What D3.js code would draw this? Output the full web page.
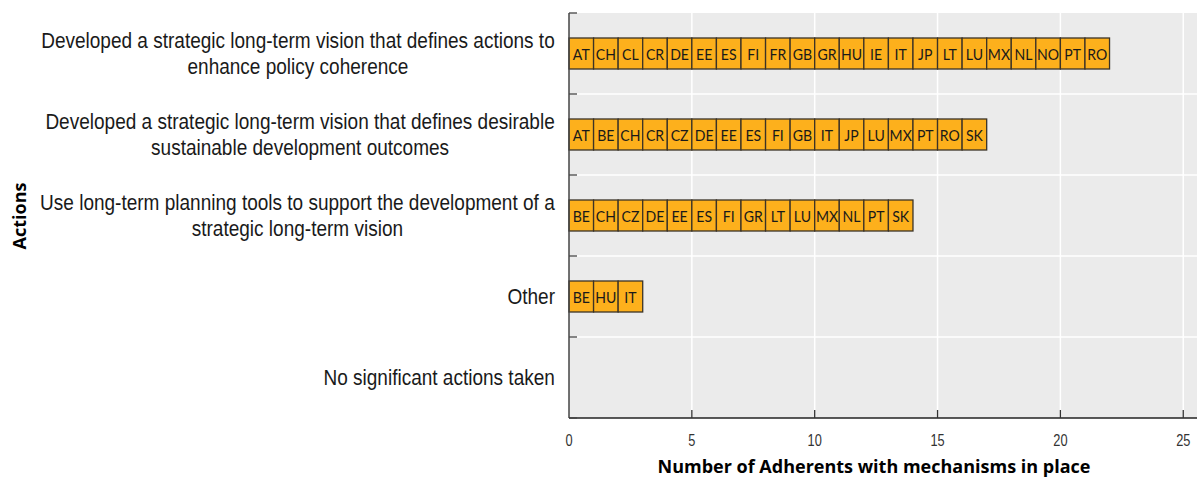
<!DOCTYPE html>
<meta charset="utf-8">
<style>
body { margin: 0; background: #fff; }
.cat { font-family: "Liberation Sans", Arial, sans-serif; font-size: 22px; fill: #1a1a1a; }
.tick text { font-family: "Liberation Sans", Arial, sans-serif; font-size: 16px; fill: #333; }
.cell text { font-family: Lato, "Open Sans", sans-serif; font-size: 16px; fill: #1a1a1a; }
.title { font-family: "Open Sans", sans-serif; font-weight: bold; fill: #000; }
</style>
<body>
<script src="https://d3js.org/d3.v7.min.js"></script>
<svg width="1197" height="479"></svg>
<script>

// categories, top to bottom; label lines as shown
var categories = [
  ["Developed a strategic long-term vision that defines actions to", "enhance policy coherence"],
  ["Developed a strategic long-term vision that defines desirable", "sustainable development outcomes"],
  ["Use long-term planning tools to support the development of a", "strategic long-term vision"],
  ["Other"],
  ["No significant actions taken"]
];

// countries in each bar
var countries = [
  ["AT","CH","CL","CR","DE","EE","ES","FI","FR","GB","GR","HU","IE","IT","JP","LT","LU","MX","NL","NO","PT","RO"],
  ["AT","BE","CH","CR","CZ","DE","EE","ES","FI","GB","IT","JP","LU","MX","PT","RO","SK"],
  ["BE","CH","CZ","DE","EE","ES","FI","GR","LT","LU","MX","NL","PT","SK"],
  ["BE","HU","IT"],
  []
];

var xTicks = [0, 5, 10, 15, 20, 25];

var svg = d3.select("svg");
var pLeft = 569, pRight = 1197, pTop = 13, pBottom = 418;

var x = d3.scaleLinear().domain([0, 25.56]).range([pLeft, pRight]);
var y = d3.scaleBand().domain(d3.range(categories.length)).range([pTop, pBottom]);

// panel
svg.append("rect")
  .attr("x", pLeft).attr("y", pTop)
  .attr("width", pRight - pLeft).attr("height", pBottom - pTop)
  .attr("fill", "#ebebeb");

// grid
svg.append("g").selectAll("line")
  .data(xTicks.slice(1))
  .enter().append("line")
    .attr("x1", d => x(d)).attr("x2", d => x(d))
    .attr("y1", pTop).attr("y2", pBottom)
    .attr("stroke", "#fff").attr("stroke-width", 1.5);

svg.append("g").selectAll("line")
  .data(d3.range(1, categories.length))
  .enter().append("line")
    .attr("x1", pLeft).attr("x2", pRight)
    .attr("y1", d => y(d)).attr("y2", d => y(d))
    .attr("stroke", "#fff").attr("stroke-width", 1.5);

// cells
var barH = 31;
var rows = svg.append("g").selectAll("g")
  .data(countries)
  .enter().append("g")
    .attr("transform", (d, i) => "translate(0," + (y(i) + (y.bandwidth() - barH) / 2) + ")");

var cell = rows.selectAll("g")
  .data(d => d)
  .enter().append("g")
    .attr("class", "cell");

cell.append("rect")
  .attr("x", (d, i) => x(i))
  .attr("y", 0)
  .attr("width", (d, i) => x(i + 1) - x(i))
  .attr("height", barH)
  .attr("fill", "#fdb01c")
  .attr("stroke", "#3b3327")
  .attr("stroke-width", 1.3);

cell.append("text")
  .attr("transform", (d, i) => "translate(" + (x(i) + x(i + 1)) / 2 + "," + (barH / 2 + 6) + ") scale(0.88,1)")
  .attr("text-anchor", "middle")
  .text(d => d);

// axes
svg.append("line")
  .attr("x1", pLeft).attr("x2", pLeft).attr("y1", pTop).attr("y2", pBottom)
  .attr("stroke", "#444").attr("stroke-width", 1.5);
svg.append("line")
  .attr("x1", pLeft).attr("x2", pRight).attr("y1", pBottom).attr("y2", pBottom)
  .attr("stroke", "#222").attr("stroke-width", 1.5);

svg.append("g").selectAll("line")
  .data(d3.range(categories.length + 1))
  .enter().append("line")
    .attr("x1", pLeft).attr("x2", pLeft + 8)
    .attr("y1", d => pTop + d * y.step()).attr("y2", d => pTop + d * y.step())
    .attr("stroke", "#444").attr("stroke-width", 1.3);

var xt = svg.append("g").attr("class", "tick");
xt.selectAll("line")
  .data(xTicks.slice(1))
  .enter().append("line")
    .attr("x1", d => x(d)).attr("x2", d => x(d))
    .attr("y1", pBottom).attr("y2", pBottom - 8)
    .attr("stroke", "#333").attr("stroke-width", 1.3);
xt.selectAll("text")
  .data(xTicks)
  .enter().append("text")
    .attr("transform", d => "translate(" + x(d) + ",446) scale(0.8,1)")
    .attr("text-anchor", "middle")
    .text(d => d);

// category labels, narrowed like the original condensed face
var labRight = 555, squeeze = 0.865;
var lab = svg.append("g").selectAll("text")
  .data(categories)
  .enter().append("text")
    .attr("class", "cat");

lab.each(function(lines, i) {
  var t = d3.select(this);
  var lh = 26;
  var y0 = y(i) + y.bandwidth() / 2 - (lines.length - 1) * lh / 2 + 8;
  lines.forEach(function(s, j) {
    t.append("tspan").attr("y", y0 + j * lh).text(s);
  });
  var widths = [];
  t.selectAll("tspan").each(function() { widths.push(this.getComputedTextLength()); });
  var cx = labRight / squeeze - d3.max(widths) / 2;
  t.attr("text-anchor", "middle")
    .attr("transform", "scale(" + squeeze + ",1)")
    .selectAll("tspan").attr("x", cx);
});

// titles
svg.append("text")
  .attr("class", "title")
  .attr("x", 874).attr("y", 473)
  .attr("text-anchor", "middle")
  .attr("font-size", "18px")
  .text("Number of Adherents with mechanisms in place");

svg.append("text")
  .attr("class", "title")
  .attr("transform", "translate(26,216) rotate(-90)")
  .attr("text-anchor", "middle")
  .attr("font-size", "18px")
  .text("Actions");

</script>
</body>
